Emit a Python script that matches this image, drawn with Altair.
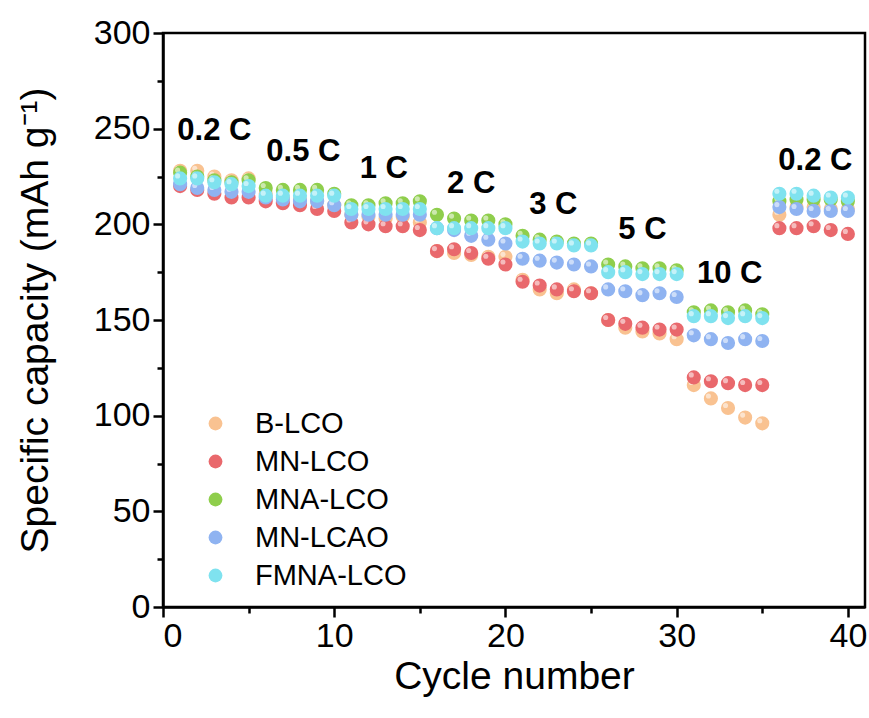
import altair as alt
import pandas as pd

cycles = list(range(1, 41))
series_names = ["B-LCO", "MN-LCO", "MNA-LCO", "MN-LCAO", "FMNA-LCO"]
b_lco = [228, 228, 225, 223, 224, 216, 214, 213, 212, 210,
         205, 204, 203, 204, 201, 186, 185, 184, 183, 183,
         171, 166, 164, 166, 164, 150, 146, 144, 143, 140,
         116, 109, 104, 99, 96, 205, 209, 209, 208, 208]
mn_lco = [220, 218, 216, 214, 214, 212, 211, 210, 208, 207,
          201, 200, 199, 199, 197, 186, 187, 185, 182, 179,
          170, 168, 166, 165, 164, 150, 148, 146, 145, 145,
          120, 118, 117, 116, 116, 198, 198, 199, 197, 195]
mna_lco = [227, 225, 223, 222, 223, 219, 218, 218, 218, 216,
           210, 210, 211, 211, 212, 205, 203, 202, 202, 200,
           194, 192, 191, 190, 190, 179, 178, 177, 177, 176,
           154, 155, 154, 155, 153, 212, 213, 213, 213, 212]
mn_lcao = [221, 219, 218, 217, 217, 214, 213, 212, 212, 210,
           205, 205, 205, 205, 205, 198, 197, 194, 192, 190,
           182, 181, 180, 179, 178, 166, 165, 163, 164, 162,
           142, 140, 138, 140, 139, 209, 208, 207, 207, 207]
fmna_lco = [224, 224, 222, 221, 220, 215, 215, 215, 215, 215,
            208, 208, 208, 208, 208, 198, 198, 198, 198, 198,
            191, 190, 190, 189, 189, 175, 175, 174, 174, 174,
            152, 152, 151, 152, 151, 216, 216, 215, 214, 214]
series_values = [b_lco, mn_lco, mna_lco, mn_lcao, fmna_lco]
colors = ["#F9C291", "#E9686C", "#8FCE4C", "#8FB3F1", "#7FE2EF"]

rate_labels = ["0.2 C", "0.5 C", "1 C", "2 C", "3 C", "5 C", "10 C", "0.2 C"]
rate_x = [3.0, 8.2, 12.9, 18.0, 22.8, 28.0, 33.1, 38.1]
rate_y = [249, 238, 229, 221, 210, 197, 174, 233]

FONT = "Liberation Sans"

rows = []
for name, vals in zip(series_names, series_values):
    for c, v in zip(cycles, vals):
        rows.append({"series": name, "cycle": c, "capacity": v})
df = pd.DataFrame(rows)
ann = pd.DataFrame({"label": rate_labels, "x": rate_x, "y": rate_y})

x_scale = alt.Scale(domain=[0, 41], nice=False, zero=False)
y_scale = alt.Scale(domain=[0, 300], nice=False)
color_scale = alt.Scale(domain=series_names, range=colors)

x_axis = alt.Axis(
    title="Cycle number", values=list(range(0, 41, 5)),
    labelExpr="datum.value % 10 === 0 ? datum.label : ''",
    tickSize={"condition": {"test": "datum.value % 10 === 0", "value": 10}, "value": 6},
    grid=False, domainColor="black", domainWidth=2.5, tickColor="black", tickWidth=2.5,
    labelFont=FONT, labelFontSize=34, labelColor="black", labelPadding=2,
    titleFont=FONT, titleFontSize=39, titleFontWeight="normal", titleColor="black", titlePadding=4,
)
y_axis = alt.Axis(
    title="Specific capacity (mAh g⁻¹)", values=list(range(0, 301, 25)),
    labelExpr="datum.value % 50 === 0 ? datum.label : ''",
    tickSize={"condition": {"test": "datum.value % 50 === 0", "value": 10}, "value": 6},
    grid=False, domainColor="black", domainWidth=2.5, tickColor="black", tickWidth=2.5,
    labelFont=FONT, labelFontSize=34, labelColor="black", labelPadding=3,
    titleFont=FONT, titleFontSize=39, titleFontWeight="normal", titleColor="black", titlePadding=38,
)

layers = []
for i, name in enumerate(series_names):
    sub = df[df.series == name]
    base = alt.Chart(sub)
    if i == 0:
        enc_x = alt.X("cycle:Q", scale=x_scale, axis=x_axis)
        enc_y = alt.Y("capacity:Q", scale=y_scale, axis=y_axis)
    else:
        enc_x = alt.X("cycle:Q", scale=x_scale)
        enc_y = alt.Y("capacity:Q", scale=y_scale)
    pts = base.mark_circle(size=200, opacity=1).encode(
        x=enc_x, y=enc_y,
        color=alt.Color("series:N", scale=color_scale, sort=series_names,
                        legend=alt.Legend(
                            title=None, orient="none", legendX=38, legendY=376,
                            labelFont=FONT, labelFontSize=29, labelColor="black",
                            symbolType="circle", symbolSize=190, symbolStrokeWidth=0,
                            labelOffset=25, rowPadding=8, symbolOpacity=1,
                        )),
    )
    hl = base.mark_circle(size=26, color="white", opacity=0.55, xOffset=-2.5, yOffset=-2.5).encode(
        x=alt.X("cycle:Q", scale=x_scale), y=alt.Y("capacity:Q", scale=y_scale),
    )
    layers += [pts, hl]

text = alt.Chart(ann).mark_text(font=FONT, fontSize=31, fontWeight="bold", color="black").encode(
    x=alt.X("x:Q", scale=x_scale), y=alt.Y("y:Q", scale=y_scale), text="label:N"
)
layers.append(text)

chart = alt.layer(*layers).properties(
    width=702, height=574,
    autosize=alt.AutoSizeParams(type="none"),
    padding={"left": 163, "top": 33, "right": 4, "bottom": 111},
    background="white",
).configure_view(stroke="black", strokeWidth=2.5)

chart.save("out.html", embed_options={"renderer": "svg", "actions": False})
